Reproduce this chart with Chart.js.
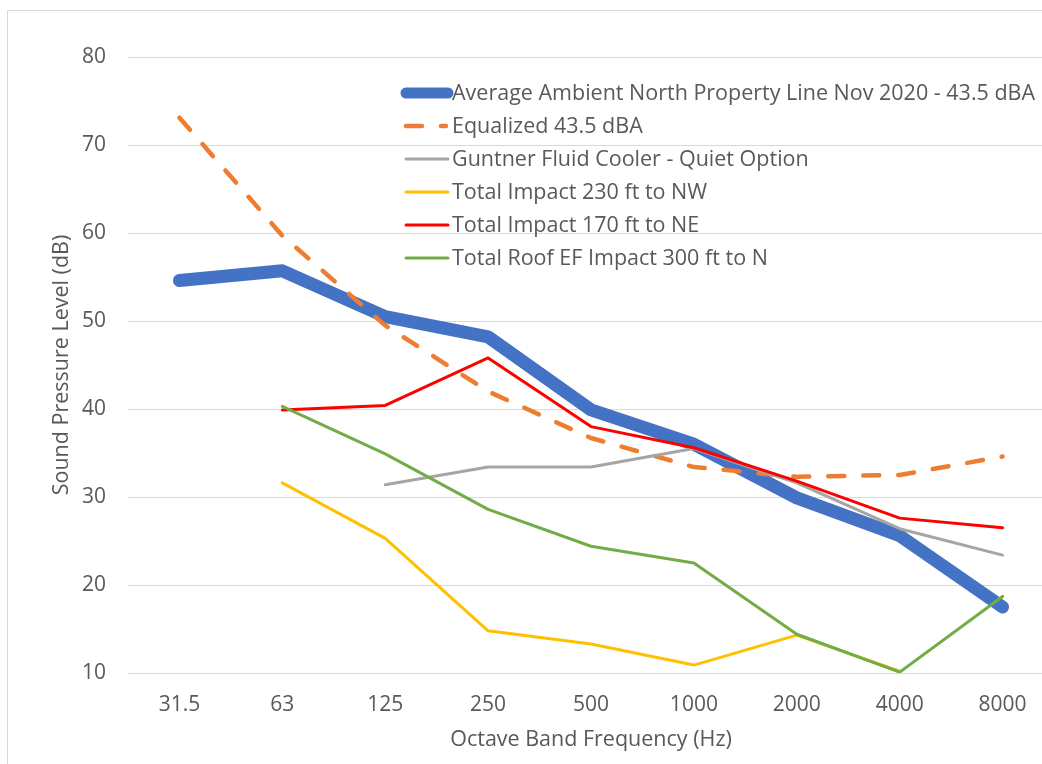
<!DOCTYPE html>
<html>
<head>
<meta charset="utf-8">
<script src="https://cdn.jsdelivr.net/npm/chart.js@4"></script>
<style>
  html, body { margin: 0; padding: 0; background: #fff; }
  #wrap { width: 1042px; height: 764px; overflow: hidden; position: relative; }
  canvas { display: block; }
</style>
</head>
<body>
<div id="wrap"><canvas id="chart" width="1060" height="764"></canvas></div>
<script>
// Octave band data
const bands = ["31.5", "63", "125", "250", "500", "1000", "2000", "4000", "8000"];

const ambient = [54.6, 55.7, 50.5, 48.2, 39.9, 36.0, 29.9, 25.6, 17.5];
const equalized = [73.1, 59.7, 49.5, 42.0, 36.7, 33.4, 32.3, 32.5, 34.6];
const guntner = [null, null, 31.4, 33.4, 33.4, 35.5, 31.6, 26.4, 23.4];
const impactNW = [null, 31.6, 25.3, 14.8, 13.3, 10.9, 14.3, 10.2, null];
const impactNE = [null, 39.9, 40.4, 45.8, 38.0, 35.6, 31.8, 27.6, 26.5];
const roofEF = [null, 40.3, 34.9, 28.6, 24.4, 22.5, 14.4, 10.1, 18.7];

const yTicks = [10, 20, 30, 40, 50, 60, 70, 80];

const FONT = "'Open Sans', Lato, sans-serif";
const TEXT = "#595959";

// рамка вокруг графика (видна только слева и сверху, как на скриншоте)
const frame = {
  id: "frame",
  beforeDraw(chart) {
    const c = chart.ctx;
    c.save();
    c.fillStyle = "#fff";
    c.fillRect(0, 0, chart.width, chart.height);
    c.strokeStyle = "#d9d9d9";
    c.lineWidth = 1;
    c.strokeRect(7.5, 10.5, chart.width + 20, chart.height + 20);
    c.restore();
  },
};

// легенда внутри области графика
const insideLegend = {
  id: "insideLegend",
  afterDraw(chart) {
    const c = chart.ctx;
    const x0 = 406;
    const y0 = 93;
    const rowH = 33;
    c.save();
    chart.data.datasets.forEach((ds, i) => {
      const y = y0 + i * rowH;
      c.beginPath();
      c.strokeStyle = ds.borderColor;
      c.lineWidth = i === 0 ? 11 : ds.borderWidth;
      c.lineCap = "round";
      c.setLineDash(ds.borderDash || []);
      c.moveTo(x0, y);
      c.lineTo(ds.borderDash ? 446 : 448, y);
      c.stroke();
      c.setLineDash([]);
      c.fillStyle = TEXT;
      c.font = "21.5px " + FONT;
      c.textBaseline = "middle";
      c.textAlign = "left";
      c.fillText(ds.label, 452, y + 1);
    });
    c.restore();
  },
};

function line(label, data, color, width, order, dash) {
  const ds = {
    label: label,
    data: data,
    borderColor: color,
    backgroundColor: color,
    borderWidth: width,
    pointRadius: 0,
    pointHoverRadius: 0,
    fill: false,
    tension: 0,
    spanGaps: false,
    borderJoinStyle: "round",
    borderCapStyle: "round",
    order: order,
  };
  if (dash) ds.borderDash = dash;
  return ds;
}

const ctx = document.getElementById("chart").getContext("2d");
new Chart(ctx, {
  type: "line",
  data: {
    labels: bands,
    datasets: [
      line("Average Ambient North Property Line Nov 2020 - 43.5 dBA", ambient, "#4472C4", 13, 6),
      line("Equalized 43.5 dBA", equalized, "#ED7D31", 4.5, 5, [16, 19]),
      line("Guntner Fluid Cooler - Quiet Option", guntner, "#A5A5A5", 3, 4),
      line("Total Impact 230 ft to NW", impactNW, "#FFC000", 3, 3),
      line("Total Impact 170 ft to NE", impactNE, "#FF0000", 3, 2),
      line("Total Roof EF Impact 300 ft to N", roofEF, "#70AD47", 3, 1),
    ],
  },
  options: {
    responsive: false,
    animation: false,
    layout: { padding: { left: 49, right: 6, top: 57, bottom: 11 } },
    plugins: {
      legend: { display: false },
      tooltip: { enabled: false },
    },
    scales: {
      x: {
        offset: true,
        grid: { display: false, drawTicks: false },
        border: { display: false },
        ticks: { color: TEXT, font: { family: FONT, size: 21 }, padding: 19, maxRotation: 0 },
        title: {
          display: true,
          text: "Octave Band Frequency (Hz)",
          color: TEXT,
          font: { family: FONT, size: 21.5 },
          padding: { top: 0, bottom: 0 },
        },
        afterFit(scale) { scale.height = 80; },
      },
      y: {
        min: yTicks[0],
        max: yTicks[yTicks.length - 1],
        afterBuildTicks(scale) { scale.ticks = yTicks.map((v) => ({ value: v })); },
        grid: { color: "#d9d9d9", lineWidth: 1, drawTicks: false },
        border: { display: false },
        ticks: { color: TEXT, font: { family: FONT, size: 21 }, padding: 22 },
        title: {
          display: true,
          text: "Sound Pressure Level (dB)",
          color: TEXT,
          font: { family: FONT, size: 21.5 },
          padding: { top: 0, bottom: 0 },
        },
        afterFit(scale) { scale.width = 79; },
      },
    },
  },
  plugins: [frame, insideLegend],
});
</script>
</body>
</html>
